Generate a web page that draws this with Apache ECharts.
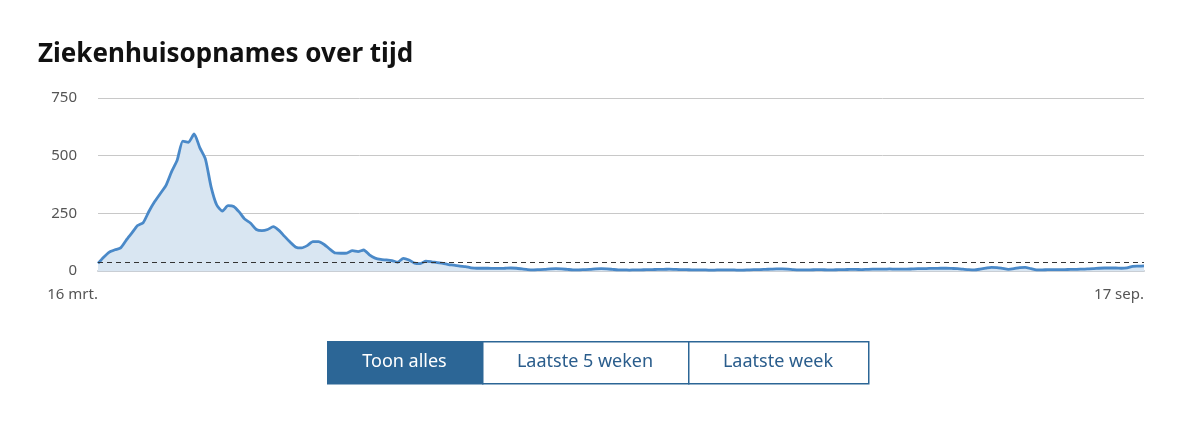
<!DOCTYPE html>
<html>
<head>
<meta charset="utf-8">
<script src="https://cdn.jsdelivr.net/npm/echarts@6/dist/echarts.min.js"></script>
<style>
html,body{margin:0;padding:0;background:#fff;}
#chart{width:1200px;height:425px;}
</style>
</head>
<body>
<div id="chart"></div>
<script>
// ---- data ----
var startDate = '2020-03-16';
var monthNames = ['jan.', 'feb.', 'mrt.', 'apr.', 'mei', 'jun.', 'jul.', 'aug.', 'sep.', 'okt.', 'nov.', 'dec.'];
var opnamesMaart = [33,60,82,92,100,134,165,197,210,258,300,335,370,430,480,563];
var opnamesApril = [558,594,535,485,365,286,260,283,280,255,224,207,180,175,180,192,176,150,125,103,100,110,127,127,115,95,78,77,78,88];
var opnamesMei = [84,91,70,56,50,48,45,38,55,48,34,32,43,40,36,33,28,25,21,19,14,12,12,12,11,11,12,13,12,9,6];
var opnamesJuni = [5,6,7,9,10,9,7,5,5,6,7,9,10,9,7,5,5,4,5,5,6,6,7,7,8,7,6,6,5,5];
var opnamesJuli = [5,4,4,5,5,5,4,4,5,6,6,7,8,9,9,8,6,5,5,5,6,6,5,5,6,6,7,7,6,7,8];
var opnamesAugustus = [8,8,9,8,8,8,9,10,10,11,11,12,12,11,10,8,6,5,8,12,16,15,11,7,10,15,16,10,5,5,6];
var opnamesSeptember = [6,6,6,7,7,8,9,10,12,13,13,13,12,14,20,21,22];
var signaalwaarde = 40;
var yTicks = [0, 250, 500, 750];
var buttonLabels = ['Toon alles', 'Laatste 5 weken', 'Laatste week'];

var values = [].concat(opnamesMaart, opnamesApril, opnamesMei, opnamesJuni, opnamesJuli, opnamesAugustus, opnamesSeptember);
var categories = [];
var d0 = new Date(startDate + 'T12:00:00Z');
for (var i = 0; i < values.length; i++) {
  var d = new Date(d0.getTime() + i * 86400000);
  categories.push(d.getUTCDate() + ' ' + monthNames[d.getUTCMonth()]);
}

var FONT = '"Noto Sans", "Open Sans", sans-serif';
var blue = '#2c6696';

// buttons
var btnX = [327, 482, 688, 868];
var graphics = [];
for (var b = 0; b < buttonLabels.length; b++) {
  var active = b === 0;
  graphics.push({
    type: 'rect', left: btnX[b], top: 341,
    shape: { width: btnX[b + 1] - btnX[b], height: 42 },
    style: { fill: active ? blue : '#fff', stroke: blue, lineWidth: 1.5 }
  });
  graphics.push({
    type: 'text',
    x: (btnX[b] + btnX[b + 1]) / 2, y: 362,
    style: {
      text: buttonLabels[b], fill: active ? '#fff' : '#2a5d8c',
      font: '18px ' + FONT, align: 'center', verticalAlign: 'middle'
    }
  });
}

var chart = echarts.init(document.getElementById('chart'), null, { renderer: 'canvas' });
chart.setOption({
  animation: false,
  backgroundColor: '#fff',
  title: {
    text: 'Ziekenhuisopnames over tijd',
    left: 33, top: 37,
    textStyle: { fontFamily: FONT, fontSize: 26, fontWeight: 'bold', color: '#111' }
  },
  grid: { left: 98, right: 56, top: 98, bottom: 154, containLabel: false },
  xAxis: {
    type: 'category',
    data: categories,
    boundaryGap: false,
    axisLine: { show: true, lineStyle: { color: '#c9ced4', width: 2 } },
    axisTick: { show: false },
    splitLine: { show: false },
    axisLabel: {
      interval: function (idx) { return idx === 0 || idx === categories.length - 1; },
      align: 'right',
      margin: 16,
      color: '#555',
      fontFamily: FONT,
      fontSize: 15,
      showMinLabel: true,
      showMaxLabel: true
    }
  },
  yAxis: {
    type: 'value',
    min: yTicks[0], max: yTicks[yTicks.length - 1], interval: 250,
    axisLine: { show: false },
    axisTick: { show: false },
    splitLine: { lineStyle: { color: '#c8c8c8', width: 1 } },
    axisLabel: { color: '#555', fontFamily: FONT, fontSize: 15, margin: 21 }
  },
  series: [{
    type: 'line',
    data: values,
    showSymbol: false,
    smooth: 0.2,
    lineStyle: { color: '#4a89c8', width: 2.8 },
    areaStyle: { color: '#d9e6f2', opacity: 1 },
    markLine: {
      silent: true,
      symbol: 'none',
      label: { show: false },
      lineStyle: { color: '#333', type: [5, 4], width: 1 },
      data: [{ yAxis: signaalwaarde }]
    }
  }],
  graphic: graphics
});
</script>
</body>
</html>
